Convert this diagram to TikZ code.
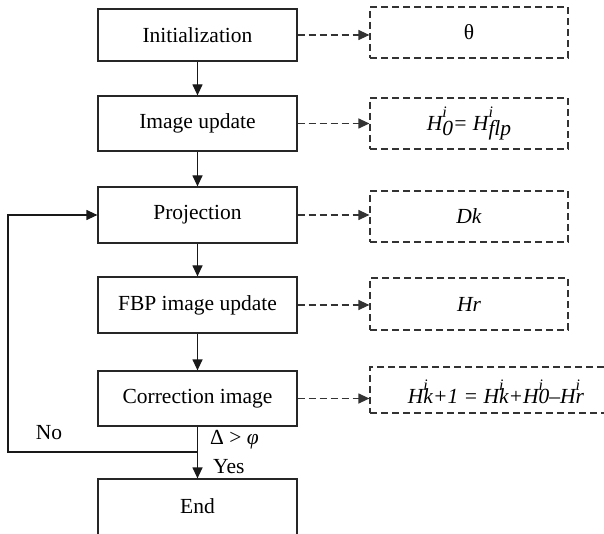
\documentclass[tikz,border=0pt]{standalone}
\usepackage{fontspec}
\setmainfont{Liberation Serif}
\usetikzlibrary{arrows.meta}
\tikzset{
  solidbox/.style={draw=black!85, line width=1.2pt, minimum width=199pt, inner sep=0pt, font=\fontsize{21.5}{25}\selectfont},
  dbox/.style={draw=black!80, line width=1.2pt, dash pattern=on 7pt off 4pt, minimum width=198pt, inner sep=0pt, font=\fontsize{21.5}{25}\selectfont},
  flow/.style={draw=black!90, line width=1.2pt, -{Triangle[length=11pt,width=10pt]}},
  dflow/.style={draw=black!80, line width=1.2pt, dash pattern=on 7pt off 4pt, -{Triangle[length=11pt,width=10pt]}},
  lbl/.style={inner sep=0pt, font=\fontsize{21.5}{25}\selectfont}
}
\newcommand{\sups}{\rlap{\raisebox{.62em}{\fontsize{16}{16}\selectfont\itshape i}}}
\begin{document}
\begin{tikzpicture}[x=1pt,y=-1pt]
\useasboundingbox (0,0) rectangle (604,534);
\fill[white] (0,0) rectangle (604,534);
% left column
\node[solidbox, minimum height=52pt] (init) at (197.5,35) {Initialization};
\node[solidbox, minimum height=55pt] (imup) at (197.5,123.5) {Image update};
\node[solidbox, minimum height=56pt] (proj) at (197.5,215) {Projection};
\node[solidbox, minimum height=56pt] (fbp) at (197.5,305) {FBP image update};
\node[solidbox, minimum height=55pt] (corr) at (197.5,398.5) {Correction image};
\node[solidbox, minimum height=62pt] (end) at (197.5,510) {};
\node[lbl] (endtxt) at (197.5,506) {End};
% right column
\node[dbox, minimum height=51pt] (theta) at (469,32.5) {θ};
\node[dbox, minimum height=51pt] (hzero) at (469,123.5) {\itshape H\sups\raisebox{-.22em}{0}= H\sups\raisebox{-.22em}{flp}};
\node[dbox, minimum height=51pt] (dk) at (469,216.5) {\itshape Dk};
\node[dbox, minimum height=52pt] (hr) at (469,304) {\itshape Hr};
\node[dbox, minimum height=46pt, minimum width=270pt] (hk) at (505,390) {};
\node[lbl] (hktxt) at (496,392) {\itshape H\sups k+1 = H\sups k+H\sups 0–H\sups r};
% vertical flow
\draw[flow] (init) -- (imup);
\draw[flow] (imup) -- (proj);
\draw[flow] (proj) -- (fbp);
\draw[flow] (fbp) -- (corr);
\draw[flow] (corr) -- (end);
% dashed outputs
\draw[dflow] (init.east) -- (theta.west |- init.east);
\draw[dflow] (imup.east) -- (hzero.west |- imup.east);
\draw[dflow] (proj.east) -- (dk.west |- proj.east);
\draw[dflow] (fbp.east) -- (hr.west |- fbp.east);
\draw[dflow] (corr.east) -- (hk.west |- corr.east);
% loop back
\coordinate (lp1) at (197.5,452);
\coordinate (lp2) at (8,452);
\draw[flow] (lp1) -- (lp2) |- (proj.west);
% labels
\node[lbl, anchor=center] (no) at (49,433) {No};
\node[lbl, anchor=west] (cond) at (210,440) {Δ > \textit{φ}};
\node[lbl, anchor=west] (yes) at (213,467) {Yes};
\end{tikzpicture}
\end{document}
